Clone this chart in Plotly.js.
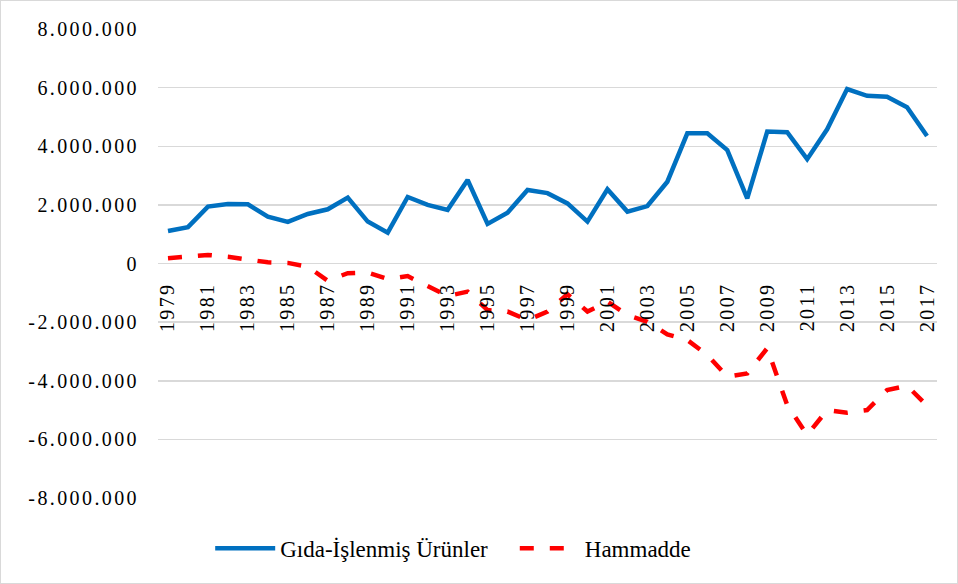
<!DOCTYPE html>
<html>
<head>
<meta charset="utf-8">
<script src="https://cdn.plot.ly/plotly-3.0.1.min.js"></script>
<style>
html,body{margin:0;padding:0;background:#fff;}
#chart{width:956px;height:582px;border:1px solid #d9d9d9;}
.ytick text, .xtick text {letter-spacing: 2.4px;}
</style>
</head>
<body>
<div id="chart"></div>
<script>
const years = ['1979','1980','1981','1982','1983','1984','1985','1986','1987','1988','1989','1990','1991','1992','1993','1994','1995','1996','1997','1998','1999','2000','2001','2002','2003','2004','2005','2006','2007','2008','2009','2010','2011','2012','2013','2014','2015','2016','2017'];
const tickYears = ['1979','1981','1983','1985','1987','1989','1991','1993','1995','1997','1999','2001','2003','2005','2007','2009','2011','2013','2015','2017'];
const gidaIslenmis = [1110000,1240000,1940000,2030000,2020000,1600000,1420000,1690000,1850000,2250000,1430000,1050000,2270000,2000000,1830000,2850000,1350000,1730000,2510000,2400000,2050000,1430000,2530000,1770000,1960000,2790000,4440000,4440000,3870000,2220000,4500000,4480000,3560000,4580000,5950000,5720000,5690000,5330000,4350000];
const hammadde = [180000,230000,290000,230000,120000,40000,20000,-110000,-590000,-330000,-310000,-530000,-430000,-790000,-1110000,-960000,-1590000,-1640000,-1930000,-1640000,-1050000,-1640000,-1300000,-1760000,-1990000,-2420000,-2610000,-3120000,-3860000,-3750000,-2890000,-4830000,-5850000,-5000000,-5090000,-5000000,-4320000,-4170000,-4850000];
const yTickVals = [-8000000,-6000000,-4000000,-2000000,0,2000000,4000000,6000000,8000000];
const yTickText = ['-8.000.000','-6.000.000','-4.000.000','-2.000.000','0','2.000.000','4.000.000','6.000.000','8.000.000'];
const seriesNames = ['Gıda-İşlenmiş Ürünler','Hammadde'];

const traces = [
  {x: years, y: gidaIslenmis, name: seriesNames[0], type: 'scatter', mode: 'lines', legend: 'legend',
   line: {color: '#0070C0', width: 4.5}},
  {x: years, y: hammadde, name: seriesNames[1], type: 'scatter', mode: 'lines', legend: 'legend2',
   line: {color: '#FF0000', width: 4.5, dash: '14px,16px'}}
];

const serif = "'Liberation Serif'";
const legendFont = {family: serif, size: 23, color: '#000'};

const layout = {
  width: 956, height: 582,
  margin: {l: 157, r: 20, t: 28, b: 85},
  paper_bgcolor: '#ffffff', plot_bgcolor: '#ffffff',
  showlegend: true,
  legend: {orientation: 'h', x: 0.067, xanchor: 'left', y: -0.107, yanchor: 'middle',
           font: legendFont, itemwidth: 60, bgcolor: 'rgba(0,0,0,0)'},
  legend2: {orientation: 'h', x: 0.458, xanchor: 'left', y: -0.107, yanchor: 'middle',
           font: legendFont, itemwidth: 60, bgcolor: 'rgba(0,0,0,0)'},
  xaxis: {type: 'category', tickmode: 'array', tickvals: tickYears, ticktext: tickYears,
          tickangle: -90, anchor: 'free', position: 0.5, showgrid: false, showline: false,
          ticks: '', ticklabelstandoff: 14, zeroline: false,
          tickfont: {family: serif, size: 20, color: '#000'},
          range: [-0.5, 38.5]},
  yaxis: {range: [-8000000, 8000000], tickmode: 'array', tickvals: yTickVals, ticktext: yTickText,
          showgrid: true, gridcolor: '#d9d9d9', gridwidth: 1.5, zeroline: true, zerolinecolor: '#d9d9d9', zerolinewidth: 1.5,
          showline: false, ticks: '', ticklabelstandoff: 18,
          tickfont: {family: serif, size: 20, color: '#000'}}
};

Plotly.newPlot('chart', traces, layout, {displayModeBar: false, staticPlot: true});
</script>
</body>
</html>
